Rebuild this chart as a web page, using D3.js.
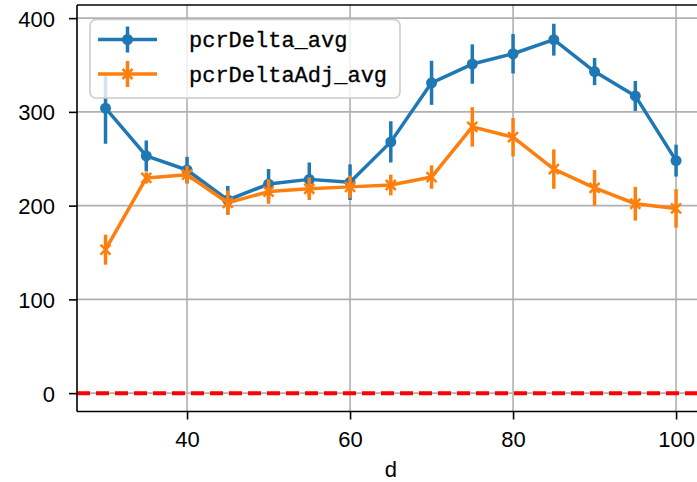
<!DOCTYPE html>
<html>
<head>
<meta charset="utf-8">
<script src="https://cdn.jsdelivr.net/npm/d3@7"></script>
<style>
  body { margin: 0; background: #fff; }
  svg { display: block; }
</style>
</head>
<body>
<svg id="canvas"></svg>
<script>
let dValues = [30, 35, 40, 45, 50, 55, 60, 65, 70, 75, 80, 85, 90, 95, 100];
let pcrDeltaAvg = [304, 253, 238, 206, 223, 228, 225, 268, 331, 351, 362, 377, 343, 317, 248];
let pcrDeltaErr = [38, 16.5, 14, 15, 16, 18, 19, 22, 23.5, 21, 21, 17, 14.5, 16, 17];
let pcrDeltaAdjAvg = [153, 229.5, 233, 203, 215, 218, 220, 222, 230.5, 284, 273, 239, 219, 202, 197];
let pcrDeltaAdjErr = [16, 6, 9.5, 13, 13, 12, 12, 11, 12.5, 21, 20.5, 21, 19, 18, 20.5];
let xTicks = [40, 60, 80, 100];
let yTicks = [0, 100, 200, 300, 400];

let width = 697,
  height = 482;
let plotLeft = 77,
  plotRight = 704.6,
  plotTop = 5,
  plotBottom = 411.5;

let canvas = d3.select("#canvas").attr("width", width).attr("height", height);

let xScale = d3.scaleLinear().domain([26.5, 103.5]).range([plotLeft, plotRight]);
let yScale = d3.scaleLinear().domain([-19.6, 414]).range([plotBottom, plotTop]);

let series = [
  { name: "pcrDelta_avg", color: "#1f77b4", marker: "circle", avg: pcrDeltaAvg, err: pcrDeltaErr },
  { name: "pcrDeltaAdj_avg", color: "#ff7f0e", marker: "x", avg: pcrDeltaAdjAvg, err: pcrDeltaAdjErr },
];

let tickFont = "'Liberation Sans', Arial, sans-serif";

// grid
canvas
  .append("g")
  .selectAll("line")
  .data(xTicks)
  .enter()
  .append("line")
  .attr("x1", (d) => xScale(d))
  .attr("x2", (d) => xScale(d))
  .attr("y1", plotTop)
  .attr("y2", plotBottom)
  .attr("stroke", "#b0b0b0")
  .attr("stroke-width", 1.6);

canvas
  .append("g")
  .selectAll("line")
  .data(yTicks)
  .enter()
  .append("line")
  .attr("x1", plotLeft)
  .attr("x2", plotRight)
  .attr("y1", (d) => yScale(d))
  .attr("y2", (d) => yScale(d))
  .attr("stroke", "#b0b0b0")
  .attr("stroke-width", 1.6);

// zero line
canvas
  .append("line")
  .attr("x1", plotLeft)
  .attr("x2", plotRight)
  .attr("y1", yScale(0))
  .attr("y2", yScale(0))
  .attr("stroke", "red")
  .attr("stroke-width", 4)
  .attr("stroke-dasharray", "13,6");

let drawMarker = (g, s, x, y) => {
  if (s.marker === "circle") {
    g.append("circle").attr("cx", x).attr("cy", y).attr("r", 5.5).attr("fill", s.color);
  } else {
    let r = 5;
    g.append("path")
      .attr("d", `M${x - r},${y - r}L${x + r},${y + r}M${x - r},${y + r}L${x + r},${y - r}`)
      .attr("stroke", s.color)
      .attr("stroke-width", 2.5);
  }
};

// series with error bars
series.forEach((s) => {
  let g = canvas.append("g");
  let pts = dValues.map((d, i) => ({ d: d, v: s.avg[i], e: s.err[i] }));

  g.selectAll("line.err")
    .data(pts)
    .enter()
    .append("line")
    .attr("class", "err")
    .attr("x1", (p) => xScale(p.d))
    .attr("x2", (p) => xScale(p.d))
    .attr("y1", (p) => yScale(p.v - p.e))
    .attr("y2", (p) => yScale(p.v + p.e))
    .attr("stroke", s.color)
    .attr("stroke-width", 3.5);

  let line = d3
    .line()
    .x((p) => xScale(p.d))
    .y((p) => yScale(p.v));

  g.append("path")
    .datum(pts)
    .attr("d", line)
    .attr("fill", "none")
    .attr("stroke", s.color)
    .attr("stroke-width", 3.5)
    .attr("stroke-linejoin", "round");

  pts.forEach((p) => drawMarker(g, s, xScale(p.d), yScale(p.v)));
});

// axes
let xAxis = d3.axisBottom(xScale).tickValues(xTicks).tickSize(8).tickPadding(12).tickFormat(d3.format("d"));
let yAxis = d3.axisLeft(yScale).tickValues(yTicks).tickSize(8).tickPadding(14).tickFormat(d3.format("d"));

let gx = canvas
  .append("g")
  .attr("transform", "translate(0," + plotBottom + ")")
  .call(xAxis);
let gy = canvas
  .append("g")
  .attr("transform", "translate(" + plotLeft + ",0)")
  .call(yAxis);

[gx, gy].forEach((g) => {
  g.select(".domain").remove();
  g.selectAll(".tick line").attr("stroke", "#000").attr("stroke-width", 1.6);
  g.selectAll(".tick text").attr("fill", "#000").style("font-family", tickFont).style("font-size", "22px");
});
gy.selectAll(".tick text").attr("dy", "0.36em");

// spines
let spine = (x1, y1, x2, y2) =>
  canvas.append("line").attr("x1", x1).attr("y1", y1).attr("x2", x2).attr("y2", y2).attr("stroke", "#000").attr("stroke-width", 1.6);
spine(plotLeft, plotTop, plotLeft, plotBottom);
spine(plotLeft, plotBottom, plotRight, plotBottom);
spine(plotLeft, plotTop, plotRight, plotTop);
spine(plotRight, plotTop, plotRight, plotBottom);

// x label
canvas
  .append("text")
  .attr("x", (plotLeft + plotRight) / 2)
  .attr("y", 477)
  .attr("text-anchor", "middle")
  .style("font-family", tickFont)
  .style("font-size", "22px")
  .text("d");

// legend
let legend = canvas.append("g");
legend
  .append("rect")
  .attr("x", 90)
  .attr("y", 19.5)
  .attr("width", 310)
  .attr("height", 78.5)
  .attr("rx", 6)
  .attr("fill", "#fff")
  .attr("fill-opacity", 0.8)
  .attr("stroke", "#cccccc")
  .attr("stroke-width", 1.6);

series.forEach((s, i) => {
  let y = 39.5 + i * 34.5;
  legend.append("line").attr("x1", 98).attr("x2", 157).attr("y1", y).attr("y2", y).attr("stroke", s.color).attr("stroke-width", 3.5);
  legend.append("line").attr("x1", 127.5).attr("x2", 127.5).attr("y1", y - 13).attr("y2", y + 13).attr("stroke", s.color).attr("stroke-width", 3.5);
  drawMarker(legend, s, 127.5, y);
  legend
    .append("text")
    .attr("x", 189)
    .attr("y", y)
    .attr("dy", "0.35em")
    .attr("stroke", "#000")
    .attr("stroke-width", 0.3)
    .style("font-family", "'Liberation Mono', monospace")
    .style("font-size", "22px")
    .text(s.name);
});
</script>
</body>
</html>
